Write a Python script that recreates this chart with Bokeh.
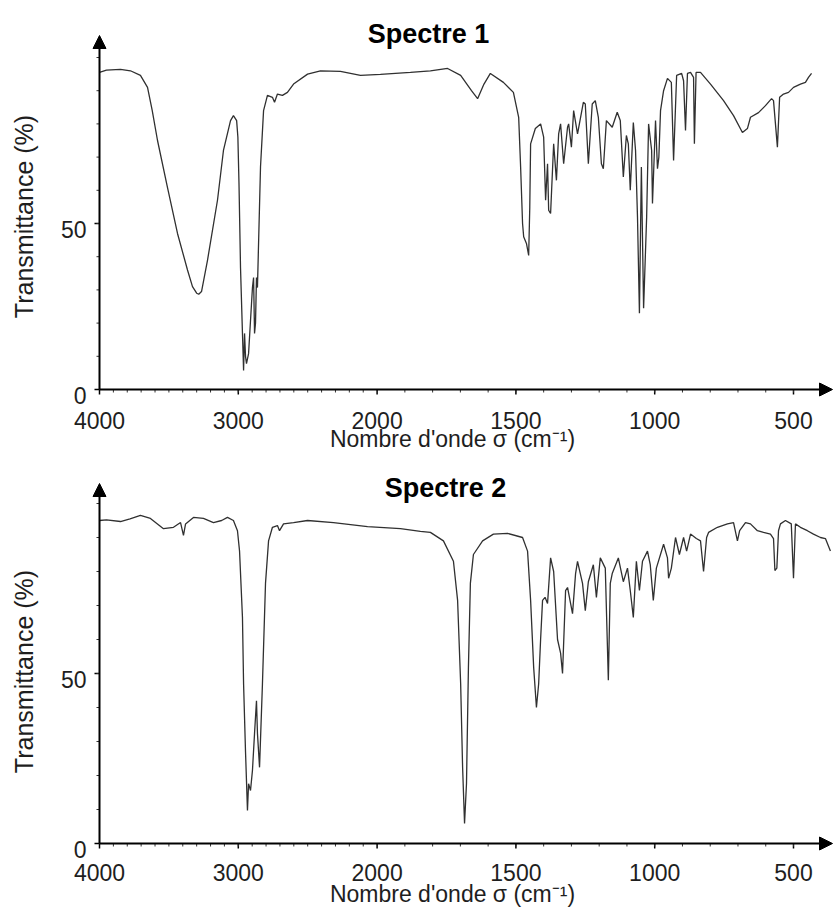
import numpy as np
from bokeh.plotting import figure
from bokeh.models import Range1d, Arrow, NormalHead, Label
from bokeh.core.properties import value
from bokeh.layouts import column
from bokeh.embed import file_html
from bokeh.resources import INLINE

# ---------------- data (wavenumber cm-1, transmittance %) ----------------
sigma1 = [4000, 3950, 3849, 3777, 3705, 3654, 3620, 3582, 3510, 3438, 3366, 3330, 3300, 3285, 3265,
          3222, 3150, 3107, 3056, 3035, 3012, 3003, 2995, 2984, 2970, 2962, 2955, 2948,
          2941, 2926, 2912, 2898, 2890, 2883, 2876, 2869, 2862, 2840, 2818, 2790, 2754,
          2739, 2718, 2682, 2646, 2602, 2501, 2408, 2264, 2120, 1988, 1880, 1808, 1746,
          1699, 1660, 1638, 1615, 1592, 1545, 1509, 1490, 1483, 1476, 1472, 1462, 1454,
          1450, 1447, 1430, 1411, 1400, 1393, 1386, 1382, 1375, 1364, 1354, 1346, 1339,
          1328, 1314, 1310, 1300, 1292, 1278, 1257, 1250, 1239, 1225, 1214, 1203, 1192,
          1185, 1174, 1153, 1135, 1124, 1113, 1102, 1095, 1088, 1077, 1069, 1062, 1055,
          1048, 1040, 1029, 1022, 1011, 1008, 997, 990, 985, 979, 968, 954, 940, 932,
          921, 903, 896, 889, 882, 871, 860, 857, 851, 835, 799, 752, 716, 684, 666,
          655, 626, 601, 579, 572, 565, 558, 550, 536, 518, 500, 475, 457, 446, 435]
trans1 = [95.5, 96.2, 96.4, 96.0, 94.6, 91.0, 84.0, 75.0, 60.8, 47.0, 36.0, 31.0, 29.0, 28.7, 29.5,
          38.9, 57.0, 72.0, 81.0, 82.5, 81.0, 76.0, 62.0, 36.7, 16.9, 5.7, 16.9, 10.0,
          7.8, 10.8, 20.8, 30.7, 33.7, 16.9, 20.0, 33.7, 30.7, 67.0, 84.0, 88.6, 88.0,
          86.5, 89.0, 88.6, 89.5, 92.0, 95.0, 96.0, 95.8, 94.6, 94.9, 95.5, 96.0, 96.7,
          94.6, 90.0, 87.6, 92.0, 95.2, 92.5, 89.5, 82.0, 67.0, 50.0, 46.0, 44.0, 40.4,
          55.0, 74.0, 78.6, 80.0, 76.0, 57.0, 68.0, 54.0, 53.0, 74.0, 63.0, 77.0, 80.0,
          68.0, 79.0, 80.0, 73.0, 84.0, 77.0, 86.5, 86.0, 68.0, 86.0, 87.0, 82.0, 68.0,
          66.5, 81.0, 79.0, 83.5, 81.0, 64.0, 76.5, 74.0, 60.0, 80.4, 72.0, 52.0, 23.0,
          67.0, 24.5, 52.0, 80.0, 72.0, 56.0, 81.0, 66.5, 70.0, 84.0, 90.0, 93.7, 92.5, 69.0,
          94.6, 95.2, 93.0, 78.0, 95.2, 95.5, 94.0, 74.0, 95.5, 95.5, 92.0, 87.0, 82.5, 77.4, 78.6,
          82.0, 83.4, 85.5, 87.6, 87.0, 80.0, 73.0, 88.0, 89.0, 89.5, 91.0, 92.0, 92.5, 94.0, 95.2]

sigma2 = [4000, 3950, 3849, 3780, 3705, 3633, 3539, 3467, 3416, 3395, 3380, 3323, 3251,
          3179, 3120, 3078, 3035, 3006, 2991, 2970, 2962, 2948, 2934, 2926, 2912, 2898,
          2883, 2869, 2862, 2847, 2826, 2804, 2782, 2754, 2718, 2703, 2674, 2602, 2501,
          2314, 2069, 1916, 1844, 1808, 1761, 1725, 1710, 1699, 1692, 1685, 1678, 1671,
          1664, 1653, 1620, 1581, 1530, 1476, 1458, 1447, 1436, 1426, 1418, 1411, 1404,
          1395, 1386, 1375, 1364, 1350, 1339, 1332, 1321, 1314, 1296, 1285, 1278, 1260,
          1250, 1239, 1221, 1210, 1196, 1178, 1167, 1160, 1153, 1131, 1113, 1098, 1088,
          1077, 1066, 1055, 1044, 1026, 1016, 1005, 994, 968, 954, 950, 940, 925, 911,
          896, 885, 871, 850, 835, 824, 813, 806, 774, 738, 716, 702, 694, 673, 655,
          630, 608, 583, 572, 567, 560, 554, 547, 529, 508, 500, 493, 475, 450, 428,
          403, 385, 367]
trans2 = [95.0, 95.2, 94.7, 95.5, 96.5, 95.6, 92.6, 93.0, 94.4, 90.6, 94.0, 95.9, 95.6,
          94.4, 95.0, 95.9, 95.0, 92.0, 86.0, 66.5, 47.0, 27.0, 9.7, 17.6, 15.6, 21.5,
          32.4, 42.0, 32.4, 22.4, 47.0, 76.5, 89.0, 93.0, 93.5, 92.0, 94.0, 94.4, 95.0,
          94.4, 93.2, 92.6, 91.8, 91.5, 89.0, 83.0, 71.5, 47.0, 22.4, 5.9, 17.6, 51.8,
          76.5, 85.0, 89.0, 91.0, 91.2, 90.0, 86.0, 71.5, 51.8, 40.0, 47.0, 60.0, 71.5,
          72.4, 70.6, 84.0, 80.0, 60.0, 56.0, 50.0, 74.4, 75.3, 67.6, 79.4, 83.0, 76.5,
          68.5, 77.0, 82.0, 72.4, 84.0, 81.0, 48.0, 76.5, 79.4, 84.0, 77.0, 81.0, 74.4,
          66.5, 83.0, 74.4, 83.0, 86.0, 82.0, 71.5, 81.0, 88.0, 84.0, 78.0, 81.0, 90.0, 85.0,
          90.0, 86.0, 91.0, 89.7, 89.0, 80.0, 90.0, 91.5, 93.0, 94.0, 94.4, 89.0, 92.0, 94.4, 94.0,
          92.0, 91.5, 91.0, 89.7, 80.3, 81.0, 92.0, 94.0, 95.0, 94.0, 78.0, 94.0, 93.0, 92.0, 91.0,
          90.0, 89.7, 86.0]

tick_sigma = [4000, 3000, 2000, 1500, 1000, 500]
tick_text = ["4000", "3000", "2000", "1500", "1000", "500"]
minor_sigma = list(range(3900, 2000, -100)) + list(range(1900, 300, -100))
y_ticks = [0, 50]
y_tick_text = ["0", "50"]
y_minor = list(range(10, 101, 10))
titles = ["Spectre 1", "Spectre 2"]
x_title = "Nombre d'onde σ (cm⁻¹)"
y_title = "Transmittance (%)"

FONT = "Liberation Sans"
W = 833
AXIS_X = 99           # page x of sigma = 4000
PX_PER_U = 138.8      # pixels per axis unit (1000 cm-1 above 2000, 500 cm-1 below)
INK = "#1e1e1e"


def to_u(s):
    s = np.asarray(s, dtype=float)
    return np.where(s >= 2000, (4000 - s) / 1000.0, 2 + (2000 - s) / 500.0)


def make(sig, tr, title, top, height, zero_y, px_t, arrow_tip_y, title_cx, title_base,
         ylab_cy, xlab_base, ticklab_base):
    """Scales: x in axis units, y in % T. Pixel helpers convert page pixels to data."""
    def U(px):
        return (px - AXIS_X) / PX_PER_U

    def T(py):
        return (zero_y - py) / px_t

    p = figure(width=W, height=height, output_backend="svg", toolbar_location=None,
               x_range=Range1d(U(0), U(W)), y_range=Range1d(T(top + height), T(top)),
               x_axis_type=None, y_axis_type=None, title=None,
               min_border=0, min_border_left=0, min_border_right=0,
               min_border_top=0, min_border_bottom=0)
    p.outline_line_color = None
    p.grid.visible = False

    # spectrum
    p.line(to_u(sig), tr, line_color="#303030", line_width=1.3)

    # axis lines with arrow heads
    head = dict(size=13, fill_color="black", line_color="black", line_width=1)
    p.add_layout(Arrow(end=NormalHead(**head), x_start=0, y_start=0, x_end=U(W - 1), y_end=0,
                       line_color="black", line_width=2))
    p.add_layout(Arrow(end=NormalHead(**head), x_start=0, y_start=0, x_end=0,
                       y_end=T(arrow_tip_y), line_color="black", line_width=2))

    # x ticks
    ux = to_u(tick_sigma)
    um = to_u(minor_sigma)
    p.segment(x0=ux, y0=np.zeros(len(ux)), x1=ux, y1=np.full(len(ux), -5 / px_t),
              line_color="black", line_width=1.5)
    p.segment(x0=um, y0=np.zeros(len(um)), x1=um, y1=np.full(len(um), -3 / px_t),
              line_color="#333333", line_width=1)
    # y ticks
    p.segment(x0=np.zeros(len(y_ticks)), y0=y_ticks, x1=np.full(len(y_ticks), -5 / PX_PER_U),
              y1=y_ticks, line_color="black", line_width=1.5)
    p.segment(x0=np.zeros(len(y_minor)), y0=y_minor, x1=np.full(len(y_minor), -3 / PX_PER_U),
              y1=y_minor, line_color="#333333", line_width=1)

    # tick labels
    p.text(x=ux, y=np.full(len(ux), T(ticklab_base)), text=tick_text,
           text_font=value(FONT), text_font_size=value("23px"), text_color=INK,
           text_align="center", text_baseline="alphabetic")
    p.text(x=np.full(len(y_ticks), U(86)), y=np.array(y_ticks) - 6 / px_t, text=y_tick_text,
           text_font=value(FONT), text_font_size=value("23px"), text_color=INK,
           text_align="right", text_baseline="alphabetic")

    # axis titles and panel title
    p.add_layout(Label(x=U(452), y=T(xlab_base), text=x_title, text_font=FONT,
                       text_font_size="23px", text_color=INK, text_align="center",
                       text_baseline="alphabetic"))
    p.add_layout(Label(x=U(23), y=T(ylab_cy), text=y_title, angle=np.pi / 2, text_font=FONT,
                       text_font_size="25px", text_color=INK, text_align="center",
                       text_baseline="middle"))
    p.add_layout(Label(x=U(title_cx), y=T(title_base), text=title, text_font=FONT,
                       text_font_size="27px", text_font_style="bold", text_color="black",
                       text_align="center", text_baseline="alphabetic"))
    return p


p1 = make(sigma1, trans1, titles[0], 0, 452, 389, 3.32, 35, 428, 33, 216, 438, 420)
p2 = make(sigma2, trans2, titles[1], 452, 456, 843, 3.4, 483, 445, 487, 671, 893, 872)

layout = column(p1, p2, spacing=0)
open("out.html", "w").write(file_html(layout, INLINE))
